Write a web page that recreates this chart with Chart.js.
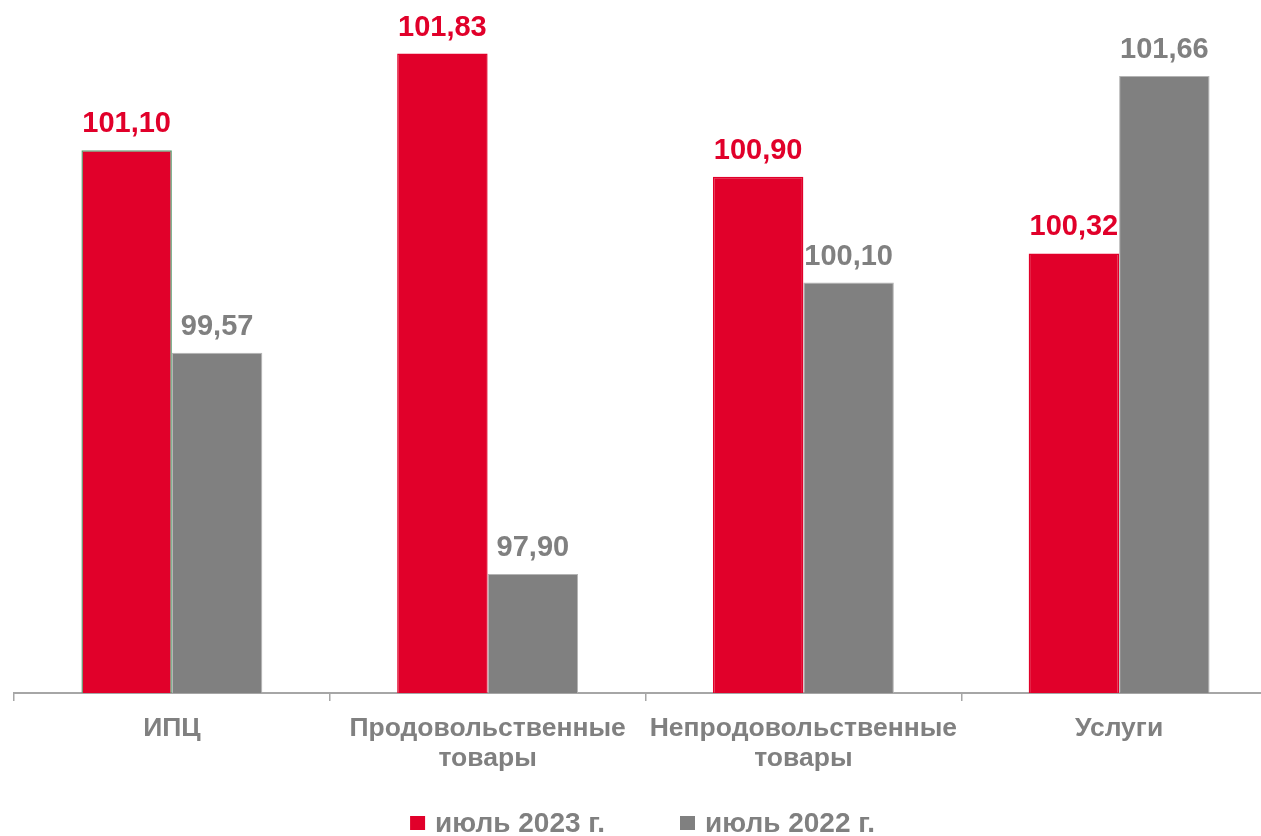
<!DOCTYPE html>
<html>
<head>
<meta charset="utf-8">
<script src="https://cdn.jsdelivr.net/npm/chart.js@4.4.0/dist/chart.umd.min.js"></script>
<style>
html,body{margin:0;padding:0;background:#fff;overflow:hidden;width:1261px;height:836px;}
#wrap{width:1291px;height:836px;}
</style>
</head>
<body>
<div id="wrap"><canvas id="c" width="1291" height="836"></canvas></div>
<script>
const categories = ['ИПЦ', ['Продовольственные', 'товары'], ['Непродовольственные', 'товары'], 'Услуги'];
const seriesNames = ['июль 2023 г.', 'июль 2022 г.'];
const values2023 = [101.10, 101.83, 100.90, 100.32];
const values2022 = [99.57, 97.90, 100.10, 101.66];

const RED = '#E1002A';
const GREY = '#808080';
const FONT = '"Liberation Sans", Arial, sans-serif';

const fmt = v => v.toFixed(2).replace('.', ',');

const labelPlugin = {
  id: 'valueLabels',
  afterDatasetsDraw(chart) {
    const ctx = chart.ctx;
    ctx.save();
    ctx.font = 'bold 29px ' + FONT;
    ctx.textAlign = 'center';
    ctx.textBaseline = 'alphabetic';
    chart.data.datasets.forEach((ds, di) => {
      const meta = chart.getDatasetMeta(di);
      ctx.fillStyle = ds.labelColor;
      meta.data.forEach((bar, i) => {
        ctx.fillText(fmt(ds.data[i]), bar.x, bar.y - 18);
      });
    });
    ctx.restore();
  }
};

const legendPlugin = {
  id: 'customLegend',
  afterDraw(chart) {
    const ctx = chart.ctx;
    ctx.save();
    ctx.font = 'bold 28px ' + FONT;
    ctx.textBaseline = 'alphabetic';
    const box = 15, gap = 10, itemGap = 75;
    const items = chart.data.datasets.map(ds => ({text: ds.label, color: ds.backgroundColor, w: box + gap + ctx.measureText(ds.label).width}));
    const total = items.reduce((s, it) => s + it.w, 0) + itemGap * (items.length - 1);
    const ca = chart.chartArea;
    let x = (ca.left + ca.right) / 2 - total / 2 - 3;
    const baseline = 832;
    items.forEach(it => {
      ctx.fillStyle = it.color;
      ctx.fillRect(x, baseline - 16, box, 14);
      ctx.fillStyle = GREY;
      ctx.fillText(it.text, x + box + gap, baseline);
      x += it.w + itemGap;
    });
    ctx.restore();
  }
};

new Chart(document.getElementById('c'), {
  type: 'bar',
  data: {
    labels: categories,
    datasets: [
      {
        label: seriesNames[0],
        data: values2023,
        backgroundColor: RED,
        borderColor: [ '#5E9E72', RED, RED, RED ],
        borderWidth: 1.5,
        labelColor: RED,
        categoryPercentage: 0.573,
        barPercentage: 1.0
      },
      {
        label: seriesNames[1],
        data: values2022,
        backgroundColor: GREY,
        borderColor: '#b4b4b4',
        borderWidth: 1,
        labelColor: GREY,
        categoryPercentage: 0.573,
        barPercentage: 1.0
      }
    ]
  },
  options: {
    responsive: false,
    animation: false,
    devicePixelRatio: 1,
    layout: { padding: { left: 14, right: 14, top: 31, bottom: 50 } },
    plugins: { legend: { display: false }, tooltip: { enabled: false } },
    scales: {
      x: {
        grid: { display: true, drawOnChartArea: false, drawTicks: true, tickLength: 8, color: '#a6a6a6', lineWidth: 1.5, offset: true },
        border: { display: true, color: '#a6a6a6', width: 2 },
        ticks: { color: GREY, font: { family: FONT, size: 26.5, weight: 'bold', lineHeight: 1.15 }, padding: 12, maxRotation: 0, autoSkip: false }
      },
      y: {
        display: false,
        min: 97,
        max: 102
      }
    }
  },
  plugins: [labelPlugin, legendPlugin]
});
</script>
</body>
</html>
